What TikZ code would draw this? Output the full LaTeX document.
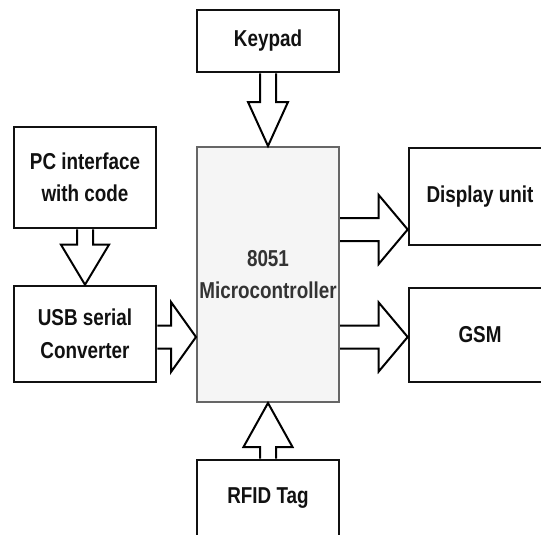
\documentclass[tikz,border=0pt]{standalone}
\usepackage{fontspec}
\setmainfont{Liberation Sans}[FakeStretch=0.82]
\usetikzlibrary{calc}
\definecolor{mcfill}{HTML}{F5F5F5}
\definecolor{mcline}{HTML}{666666}
\definecolor{mctext}{HTML}{333333}
\definecolor{boxline}{HTML}{111111}
\tikzset{
  blk/.style={draw=boxline, line width=2.6pt, fill=white, minimum width=142pt,
    inner sep=0pt, align=center, text=boxline,
    font=\bfseries\fontsize{23}{32.5}\selectfont},
  mcblk/.style={blk, draw=mcline, line width=2pt, fill=mcfill, text=mctext},
  barrow/.style={draw=black, line width=2pt, line join=miter}
}
\newcommand{\blockarrow}[5]{%
  \coordinate (ba-q) at ($(#2)!#5!(#1)$);
  \draw[barrow] ($(#1)!#3!90:(#2)$) -- ($(ba-q)!#3!-90:(#1)$) -- ($(ba-q)!#4!-90:(#1)$)
    -- (#2) -- ($(ba-q)!#4!90:(#1)$) -- ($(ba-q)!#3!90:(#1)$) -- ($(#1)!#3!-90:(#2)$);
}
\begin{document}
\begin{tikzpicture}[x=1pt,y=-1pt]
\useasboundingbox (0,0) rectangle (541,535);
\fill[white] (0,0) rectangle (541,535);

\node[blk, minimum height=62pt] (kp) at (268,41) {Keypad};
\node[mcblk, minimum height=255pt] (mc) at (268,274.5) {8051\\Microcontroller};
\node[blk, minimum height=101pt] (pc) at (85,177.5) {PC interface\\with code};
\node[blk, minimum height=96pt] (usb) at (85,334) {USB serial\\Converter};
\node[blk, minimum height=97pt] (disp) at (480,196.5) {Display unit};
\node[blk, minimum height=94pt] (gsm) at (480,335) {GSM};
\node[blk, minimum height=76pt] (rfid) at (268,498) {RFID Tag};

\coordinate (ua) at (usb.east |- 0,337);
\coordinate (ub) at (mc.west |- 0,337);
\coordinate (da) at (mc.east |- 0,229.5);
\coordinate (db) at (disp.west |- 0,229.5);
\coordinate (ga) at (mc.east |- 0,337);
\coordinate (gb) at (gsm.west |- 0,337);

\blockarrow{kp.south}{mc.north}{8pt}{20pt}{44pt}
\blockarrow{pc.south}{usb.north}{8pt}{24pt}{40pt}
\blockarrow{rfid.north}{mc.south}{8pt}{24.5pt}{44pt}
\blockarrow{ua}{ub}{11.5pt}{35pt}{25pt}
\blockarrow{da}{db}{11.5pt}{34.5pt}{29pt}
\blockarrow{ga}{gb}{11.5pt}{34.5pt}{29pt}
\end{tikzpicture}
\end{document}
